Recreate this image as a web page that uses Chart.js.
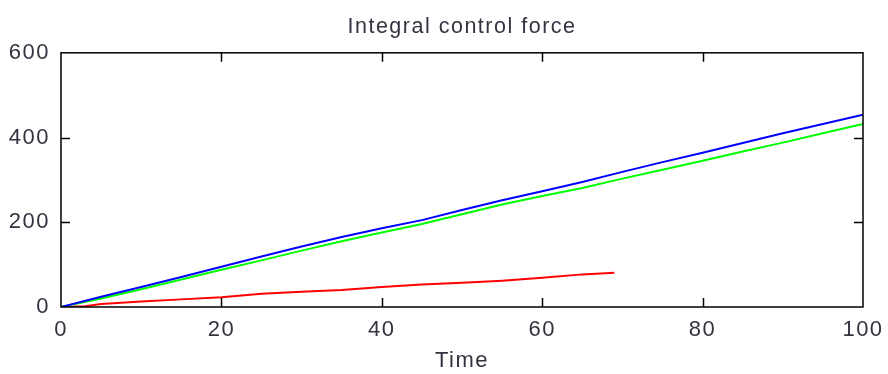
<!DOCTYPE html>
<html>
<head>
<meta charset="utf-8">
<title>Integral control force</title>
<script src="https://cdn.jsdelivr.net/npm/chart.js@4.4.1/dist/chart.umd.min.js"></script>
<style>
    html, body { margin: 0; padding: 0; background: #fff; }
    #wrap { width: 888px; height: 374px; }
</style>
</head>
<body>
<div id="wrap"><canvas id="force"></canvas></div>
<script>
// Integral control force vs time
// -----------------------------------

var timeMain = [0, 5, 10, 15, 20, 25, 30, 35, 40, 45, 50, 55, 60, 65, 70, 75, 80, 85, 90, 95, 100];
var forceBlue = [0, 24, 47, 71, 95, 119, 143, 165, 186, 205, 229, 252, 273, 295, 319, 342, 364, 387, 410, 432, 454];
var forceGreen = [0, 20, 42, 65, 88, 110, 133, 155, 176, 196, 219, 242, 262, 281, 303, 324, 345, 367, 388, 410, 432];

var timeRed = [0, 3, 5, 10, 15, 20, 25, 30, 35, 40, 45, 50, 55, 60, 65, 69];
var forceRed = [0, 2, 7, 13, 18, 23, 31, 36, 40, 47, 53, 57, 62, 69, 77, 81];

var xTicks = [0, 20, 40, 60, 80, 100];
var yTicks = [0, 200, 400, 600];

var textColor = '#35333f';
var fontFamily = '"Liberation Sans", Arial, sans-serif';

function toPoints(xs, ys) {
    return xs.map(function(x, i) { return { x: x, y: ys[i] }; });
}

// slightly spaced-out lettering for every label on the canvas
var spacingPlugin = {
    id: 'spacing',
    beforeInit: function(chart) { chart.ctx.letterSpacing = '1.5px'; },
    beforeUpdate: function(chart) { chart.ctx.letterSpacing = '1.5px'; }
};

// box round the plot with short inward ticks on all four sides
var framePlugin = {
    id: 'frame',
    afterDatasetsDraw: function(chart) {
        var ctx = chart.ctx;
        var a = chart.chartArea;
        var xs = chart.scales.x, ys = chart.scales.y;
        var len = 9;
        ctx.save();
        ctx.strokeStyle = '#000';
        ctx.lineWidth = 1.5;
        ctx.strokeRect(a.left, a.top, a.right - a.left, a.bottom - a.top);
        ctx.beginPath();
        xTicks.slice(1, -1).forEach(function(v) {
            var px = Math.round(xs.getPixelForValue(v)) + 0.5;
            ctx.moveTo(px, a.bottom); ctx.lineTo(px, a.bottom - len);
            ctx.moveTo(px, a.top); ctx.lineTo(px, a.top + len);
        });
        yTicks.slice(1, -1).forEach(function(v) {
            var py = Math.round(ys.getPixelForValue(v)) + 0.5;
            ctx.moveTo(a.left, py); ctx.lineTo(a.left + len, py);
            ctx.moveTo(a.right, py); ctx.lineTo(a.right - len, py);
        });
        ctx.stroke();
        ctx.restore();
    }
};

var lineDefaults = { borderWidth: 2, pointRadius: 0, tension: 0, fill: false };

new Chart(document.getElementById('force'), {
    type: 'line',
    data: {
        datasets: [
            Object.assign({ data: toPoints(timeMain, forceBlue), borderColor: '#0000ff' }, lineDefaults),
            Object.assign({ data: toPoints(timeMain, forceGreen), borderColor: '#00ff00' }, lineDefaults),
            Object.assign({ data: toPoints(timeRed, forceRed), borderColor: '#ff0000' }, lineDefaults)
        ]
    },
    options: {
        responsive: true,
        maintainAspectRatio: false,
        animation: false,
        layout: { padding: { right: 25, left: 0, top: 0, bottom: 0 } },
        plugins: {
            legend: { display: false },
            tooltip: { enabled: false },
            title: {
                display: true,
                fullSize: false,
                text: 'Integral control force',
                color: textColor,
                font: { family: fontFamily, size: 21.5, weight: 'normal' },
                padding: { top: 14, bottom: 13 }
            }
        },
        scales: {
            x: {
                type: 'linear',
                min: 0,
                max: 100,
                afterFit: function(scale) {
                    scale.height = 67;
                    scale.paddingLeft = 0;
                    scale.paddingRight = 0;
                },
                afterBuildTicks: function(scale) {
                    scale.ticks = xTicks.map(function(v) { return { value: v }; });
                },
                grid: { display: false, drawTicks: false },
                border: { display: false },
                ticks: {
                    color: textColor,
                    padding: 10,
                    maxRotation: 0,
                    font: { family: fontFamily, size: 22 }
                },
                title: {
                    display: true,
                    text: 'Time',
                    color: textColor,
                    padding: 0,
                    font: { family: fontFamily, size: 22 }
                }
            },
            y: {
                min: 0,
                max: 600,
                afterFit: function(scale) {
                    scale.width = 61;
                    scale.paddingTop = 0;
                    scale.paddingBottom = 0;
                },
                afterBuildTicks: function(scale) {
                    scale.ticks = yTicks.map(function(v) { return { value: v }; });
                },
                grid: { display: false, drawTicks: false },
                border: { display: false },
                ticks: {
                    color: textColor,
                    padding: 11,
                    font: { family: fontFamily, size: 22 }
                }
            }
        }
    },
    plugins: [spacingPlugin, framePlugin]
});
</script>
</body>
</html>
